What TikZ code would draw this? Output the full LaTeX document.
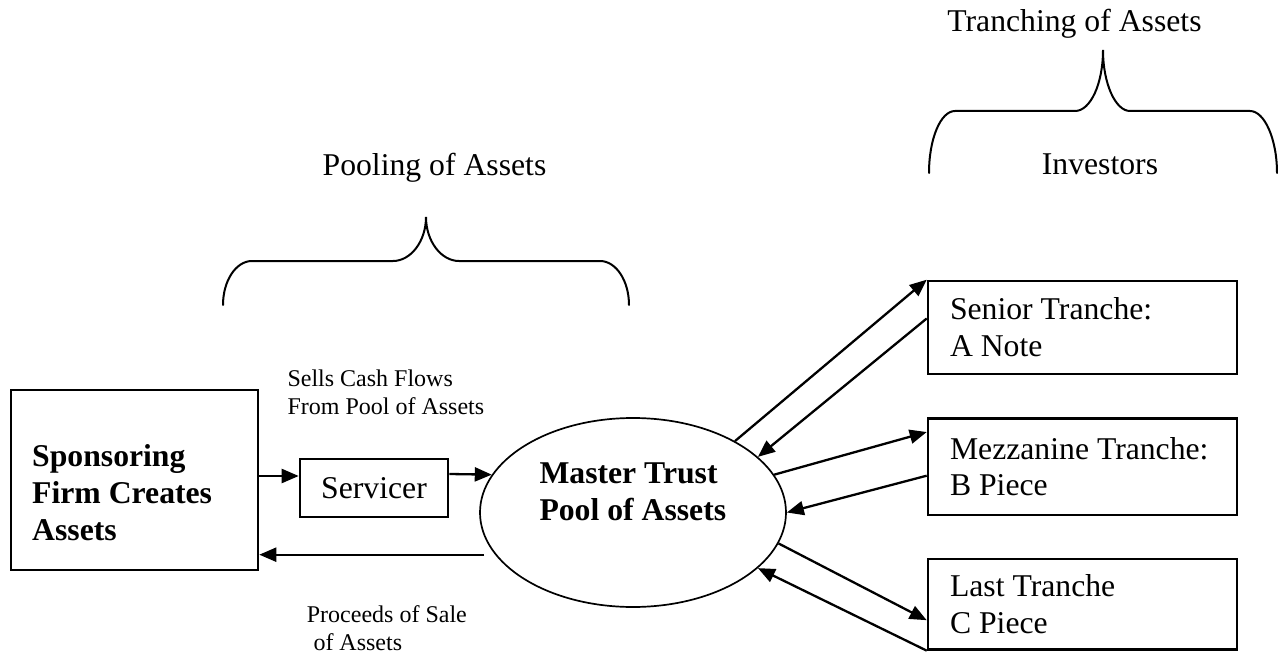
\documentclass[tikz,border=0pt]{standalone}
\usepackage{fontspec}
\setmainfont{Liberation Serif}
\usetikzlibrary{arrows.meta,shapes.geometric}
\begin{document}
\begin{tikzpicture}[x=1pt,y=-1pt,
  bigtxt/.style={font=\fontsize{31.7}{36.7}\selectfont},
  bigbold/.style={font=\fontsize{31.7}{36.7}\selectfont\bfseries},
  smalltxt/.style={font=\fontsize{24}{27.3}\selectfont},
  txt/.style={inner sep=0pt, anchor=base west, align=left},
  boxnode/.style={draw, line width=2.6pt, rectangle, inner sep=0pt},
  tranche/.style={boxnode, bigtxt, minimum width=309pt, text width=265pt, inner xsep=22pt, align=flush left},
  arr/.style={line width=2.3pt, -{Triangle[length=17pt,width=14pt]}},
  bracepath/.style={line width=2pt, line cap=round}]
\useasboundingbox (0,0) rectangle (1278,658);

% nodes
\node[boxnode, minimum width=247pt, minimum height=180pt] (sponsor) at (134.5,480) {};
\node[txt, bigbold] (sponsortext) at (32,540) {Sponsoring\\Firm Creates\\Assets};
\node[boxnode, bigtxt, minimum width=148pt, minimum height=58pt] (servicer) at (374,488) {Servicer};
\node[draw, ellipse, line width=1.7pt, minimum width=306pt, minimum height=189pt, inner sep=0pt] (trust) at (633,512.5) {};
\node[txt, bigbold] (trusttext) at (539.3,520) {Master Trust\\Pool of Assets};

\node[tranche, minimum height=93pt] (A) at (1082.5,327.5) {Senior Tranche:\\A Note};
\node[tranche, minimum height=96.7pt] (B) at (1082.5,466.7) {Mezzanine Tranche:\\B Piece};
\node[tranche, minimum height=90.3pt] (C) at (1082.5,604.2) {Last Tranche\\C Piece};

% labels
\node[txt, smalltxt] (sells) at (287.3,414) {Sells Cash Flows\\From Pool of Assets};
\node[txt, smalltxt] (proceeds) at (306.7,650) {Proceeds of Sale\\\hspace*{6.6pt}of Assets};
\node[inner sep=0pt, anchor=base, bigtxt] (pooling) at (434.5,176) {Pooling of Assets};
\node[inner sep=0pt, anchor=base, bigtxt] (tranching) at (1074.5,32) {Tranching of Assets};
\node[inner sep=0pt, anchor=base, bigtxt] (investors) at (1100,175) {Investors};

% braces
\draw[bracepath] (223,305) .. controls (223,280.7) and (236,261) .. (252,261) -- (393,261)
  .. controls (411,261) and (426,241) .. (426,217)
  .. controls (426,241) and (441,261) .. (459,261) -- (600,261)
  .. controls (616,261) and (629,280.7) .. (629,305);
\draw[bracepath] (929,173) .. controls (929,138.8) and (940.6,111) .. (955,111) -- (1075,111)
  .. controls (1090.5,111) and (1103,83.7) .. (1103,50)
  .. controls (1103,83.7) and (1115.5,111) .. (1130,111) -- (1250,111)
  .. controls (1264.4,111) and (1277,138.8) .. (1277,173);

% connectors
\draw[arr] ([yshift=12pt]servicer.west -| sponsor.east) -- ([yshift=12pt]servicer.west);
\draw[arr] ([yshift=14pt]servicer.east) -- (trust.165);
\draw[arr, shorten <=11pt] (trust.197) -- (trust.197 -| sponsor.east);

\draw[arr] (trust.35) -- (A.north west);
\draw[arr] ([yshift=9pt]A.west) -- (trust.24);
\draw[arr] (trust.15) -- ([yshift=-15pt]B.north west);
\draw[arr] ([yshift=-9pt]B.west) -- (trust.east);
\draw[arr] (trust.-12) -- ([yshift=-16pt]C.west);
\draw[arr] (C.south west) -- (trust.-24);
\end{tikzpicture}
\end{document}
